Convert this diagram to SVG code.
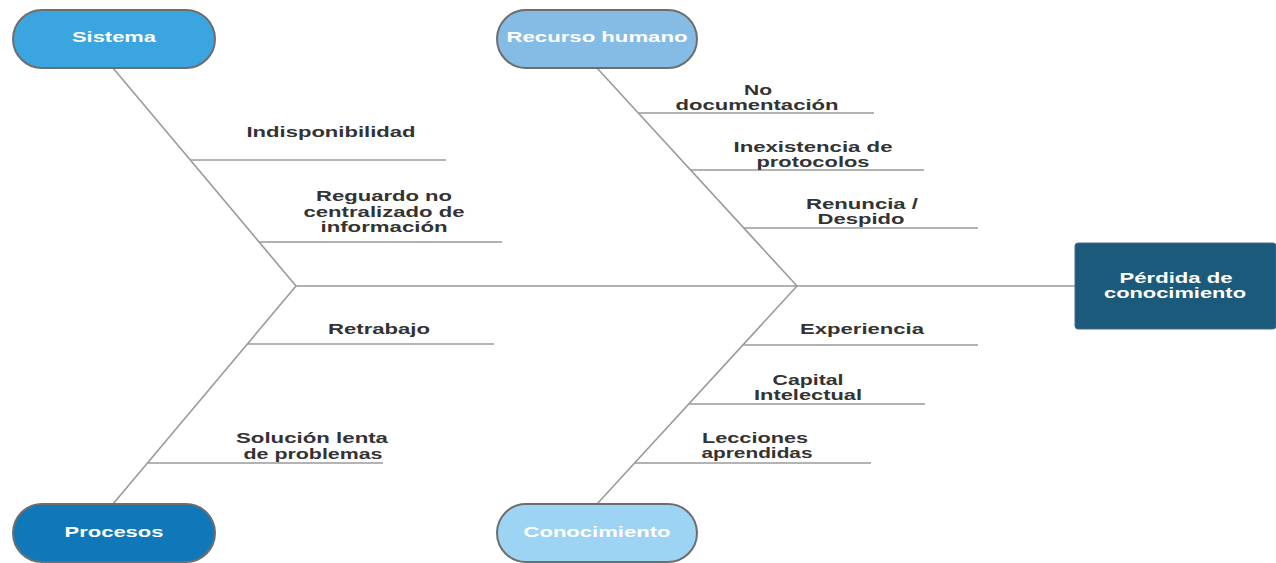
<svg xmlns="http://www.w3.org/2000/svg" width="1276" height="563" viewBox="0 0 1276 563">
<style>
.bone{stroke:#9a9a9a;stroke-width:1.6;fill:none}
.pill{stroke:#6e6e6e;stroke-width:2}
.lbl{font-family:"Liberation Sans",Arial,sans-serif;font-weight:bold;font-size:15px;fill:#333;text-anchor:middle}
.nt{font-family:"Liberation Sans",Arial,sans-serif;font-weight:bold;font-size:15px;fill:#fff;text-anchor:middle}
</style>
<rect width="1276" height="563" fill="#fff"/>
<g id="connectors">
<line class="bone" x1="296" y1="286" x2="1075" y2="286"/>
<line class="bone" x1="113" y1="68" x2="296" y2="286"/>
<line class="bone" x1="296" y1="286" x2="113" y2="504"/>
<line class="bone" x1="597" y1="68" x2="797" y2="286"/>
<line class="bone" x1="797" y1="286" x2="597" y2="504"/>
<line class="bone" x1="191" y1="160" x2="446" y2="160"/>
<line class="bone" x1="259" y1="242" x2="502" y2="242"/>
<line class="bone" x1="247" y1="344" x2="494" y2="344"/>
<line class="bone" x1="148" y1="463" x2="383" y2="463"/>
<line class="bone" x1="639" y1="113" x2="874" y2="113"/>
<line class="bone" x1="691" y1="170" x2="924" y2="170"/>
<line class="bone" x1="744" y1="228" x2="978" y2="228"/>
<line class="bone" x1="743" y1="345" x2="978" y2="345"/>
<line class="bone" x1="689" y1="404" x2="925" y2="404"/>
<line class="bone" x1="635" y1="463" x2="871" y2="463"/>
</g>
<g id="labels">
<text class="lbl" x="331" y="137" textLength="169" lengthAdjust="spacingAndGlyphs">Indisponibilidad</text>
<text class="lbl" x="384" y="201" textLength="136" lengthAdjust="spacingAndGlyphs">Reguardo no</text>
<text class="lbl" x="384" y="217" textLength="161" lengthAdjust="spacingAndGlyphs">centralizado de</text>
<text class="lbl" x="384" y="232" textLength="127" lengthAdjust="spacingAndGlyphs">información</text>
<text class="lbl" x="379" y="334" textLength="102" lengthAdjust="spacingAndGlyphs">Retrabajo</text>
<text class="lbl" x="312" y="443" textLength="152" lengthAdjust="spacingAndGlyphs">Solución lenta</text>
<text class="lbl" x="313" y="459" textLength="139" lengthAdjust="spacingAndGlyphs">de problemas</text>
<text class="lbl" x="758" y="95" textLength="28" lengthAdjust="spacingAndGlyphs">No</text>
<text class="lbl" x="757" y="110" textLength="163" lengthAdjust="spacingAndGlyphs">documentación</text>
<text class="lbl" x="813" y="152" textLength="159" lengthAdjust="spacingAndGlyphs">Inexistencia de</text>
<text class="lbl" x="813" y="167" textLength="113" lengthAdjust="spacingAndGlyphs">protocolos</text>
<text class="lbl" x="862" y="209" textLength="112" lengthAdjust="spacingAndGlyphs">Renuncia /</text>
<text class="lbl" x="861" y="224" textLength="87" lengthAdjust="spacingAndGlyphs">Despido</text>
<text class="lbl" x="862" y="334" textLength="124" lengthAdjust="spacingAndGlyphs">Experiencia</text>
<text class="lbl" x="808" y="385" textLength="71" lengthAdjust="spacingAndGlyphs">Capital</text>
<text class="lbl" x="808" y="400" textLength="108" lengthAdjust="spacingAndGlyphs">Intelectual</text>
<text class="lbl" x="755" y="443" textLength="106" lengthAdjust="spacingAndGlyphs">Lecciones</text>
<text class="lbl" x="757" y="458" textLength="111" lengthAdjust="spacingAndGlyphs">aprendidas</text>
</g>
<g id="sistema">
<rect class="pill" x="13" y="10" width="202" height="58" rx="29" fill="#3aa5de"/>
<text class="nt" x="114" y="42" textLength="84" lengthAdjust="spacingAndGlyphs">Sistema</text>
</g>
<g id="recurso-humano">
<rect class="pill" x="497" y="10" width="200" height="58" rx="29" fill="#85bce6"/>
<text class="nt" x="597" y="42" textLength="181" lengthAdjust="spacingAndGlyphs">Recurso humano</text>
</g>
<g id="procesos">
<rect class="pill" x="13" y="504" width="202" height="58" rx="29" fill="#1078b9"/>
<text class="nt" x="114" y="537" textLength="99" lengthAdjust="spacingAndGlyphs">Procesos</text>
</g>
<g id="conocimiento">
<rect class="pill" x="497" y="504" width="200" height="58" rx="29" fill="#9dd3f3"/>
<text class="nt" x="597" y="537" textLength="147" lengthAdjust="spacingAndGlyphs">Conocimiento</text>
</g>
<g id="perdida">
<rect x="1075" y="243" width="201" height="86" rx="3" fill="#1c5a7c" stroke="#4a6a80" stroke-width="1"/>
<text class="nt" x="1176" y="283" textLength="113" lengthAdjust="spacingAndGlyphs">Pérdida de</text>
<text class="nt" x="1175" y="298" textLength="142" lengthAdjust="spacingAndGlyphs">conocimiento</text>
</g>
</svg>
